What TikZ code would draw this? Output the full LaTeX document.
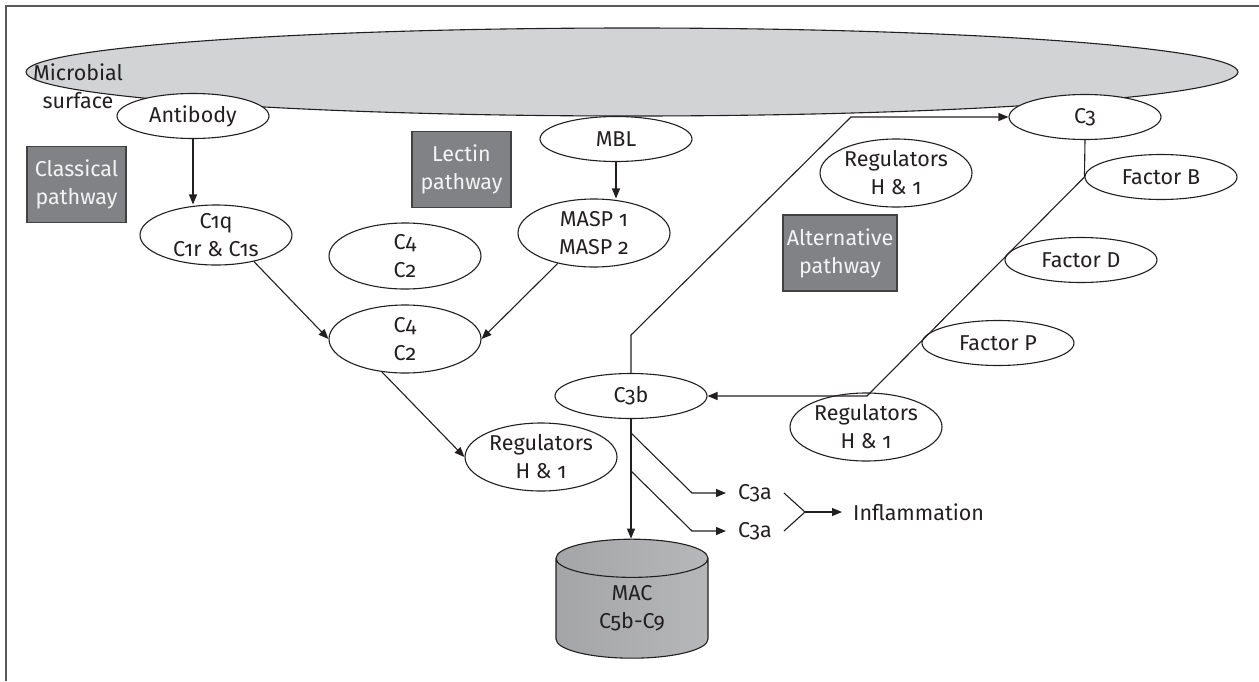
\documentclass[tikz,border=0pt]{standalone}
\usepackage{fontspec}
\setmainfont{Fira Sans}[Numbers=OldStyle]
\usepackage{tikz}
\usetikzlibrary{positioning, arrows.meta, shapes.geometric, calc}
\definecolor{cInk}      {HTML}{231F20}
\definecolor{cSurface}  {HTML}{D1D3D4}
\definecolor{cPathBox}  {HTML}{808285}
\definecolor{cPathText} {HTML}{F4F4F4}
\definecolor{cMacDark}  {HTML}{A4A5A7}
\definecolor{cMacLight} {HTML}{E6E7E8}
\definecolor{cFrame}    {HTML}{58595B}

\begin{document}
\begin{tikzpicture}[x=1pt, y=-1pt,
    font=\fontsize{21.5}{28}\selectfont,
    comp/.style={ellipse, draw=cInk, line width=1.1pt, fill=white, text=cInk,
                 inner sep=-6pt, align=center, minimum width=152pt, minimum height=45pt},
    comptall/.style={comp, minimum height=68pt},
    pathbox/.style={rectangle, draw=cInk!85, fill=cPathBox, line width=1.1pt,
                    text=cPathText, align=center, inner sep=0pt,
                    minimum width=99pt, minimum height=76pt},
    link/.style={draw=cInk, line width=1.1pt},
    arr/.style={link, -{Triangle[length=10pt, width=8pt]}},
    plain/.style={text=cInk, inner xsep=12pt, inner ysep=2pt}]
  \useasboundingbox (0,0) rectangle (1259,681);
  % frame (left and top only)
  \draw[cFrame, line width=1.2pt] (6,681) -- (6,6) -- (1259,6);

  % Microbial surface
  \node[ellipse, draw=cInk, fill=cSurface, line width=1.1pt, inner sep=0pt,
        minimum width=1212pt, minimum height=88pt] (surface) at (632,72) {};
  \node[plain, inner sep=0pt, align=center] (surflabel) at (78,86) {Microbial\\surface};

  % Pathway labels
  \node[pathbox] (classical) at (76.5,184.5) {Classical\\pathway};
  \node[pathbox] (lectin) at (461.5,169.5) {Lectin\\pathway};
  \node[pathbox, minimum width=114pt] (alternative) at (840,253) {Alternative\\pathway};

  % Classical and lectin branch
  \node[comp] (antibody) at (193,116) {Antibody};
  \node[comp, minimum height=60pt] (c1) at (216,235) {C1q\\C1r \& C1s};
  \node[comptall, minimum height=66pt] (c4a) at (405,256) {C4\\C2};
  \node[comptall] (c4b) at (405,339) {C4\\C2};
  \node[comp] (mbl) at (616,139) {MBL};
  \node[comptall] (masp) at (594,233) {MASP 1\\MASP 2};
  \node[comptall] (regL) at (541,457) {Regulators\\H \& 1};

  % Alternative branch
  \node[comp] (c3) at (1085,117) {C3};
  \node[comptall] (regT) at (896,173) {Regulators\\H \& 1};
  \node[comp] (facB) at (1161,177) {Factor B};
  \node[comp] (facD) at (1081,260) {Factor D};
  \node[comp] (facP) at (998,343) {Factor P};
  \node[comptall] (regR) at (866,427) {Regulators\\H \& 1};
  \node[comp] (c3b) at (631,396) {C3b};

  % Terminal products
  \node[cylinder, shape border rotate=90, aspect=0.58, draw=cInk, line width=1.1pt,
        left color=cMacDark, middle color=cMacLight, right color=cMacDark!80,
        minimum width=152pt, minimum height=119pt, inner sep=0pt, align=center,
        text=cInk] (mac) at (632,608.5) {MAC\\C5b-C9};
  \node[plain] (c3a1) at (755,493) {C3a};
  \node[plain] (c3a2) at (755,531) {C3a};
  \node[plain, inner xsep=11pt, anchor=west] (inflam) at (842,512) {Inflammation};

  % bends
  \coordinate (bendA) at (631,335);
  \coordinate (bendB) at (851,117);
  \coordinate (bendC) at (867,396);
  \coordinate (br1) at (631,433);
  \coordinate (kn1) at (692,493);
  \coordinate (br2) at (631,471);
  \coordinate (kn2) at (692,531);
  \coordinate (join) at (805,512);

  % Connectors
  \draw[arr] (antibody) -- (antibody |- c1.north);
  \draw[arr] (mbl) -- (mbl |- masp.north);
  \draw[arr] (c1.-35) -- (c4b.west);
  \draw[arr] (masp.-140) -- (c4b.east);
  \draw[arr] (c4b.-125) -- (regL.west);
  \draw[arr] (c3b.north) -- (bendA) -- (bendB) -- (c3.west);
  \draw[arr] (c3.south) -- (facB.west) -- (bendC) -- (c3b.east);
  \draw[arr] (c3b.south) -- (c3b.south |- mac.north);
  \draw[arr] (br1) -- (kn1) -- (c3a1.west);
  \draw[arr] (br2) -- (kn2) -- (c3a2.west);
  \draw[link] (c3a1.east) -- (join) -- (c3a2.east);
  \draw[arr] (join) -- (inflam.west);
\end{tikzpicture}
\end{document}
